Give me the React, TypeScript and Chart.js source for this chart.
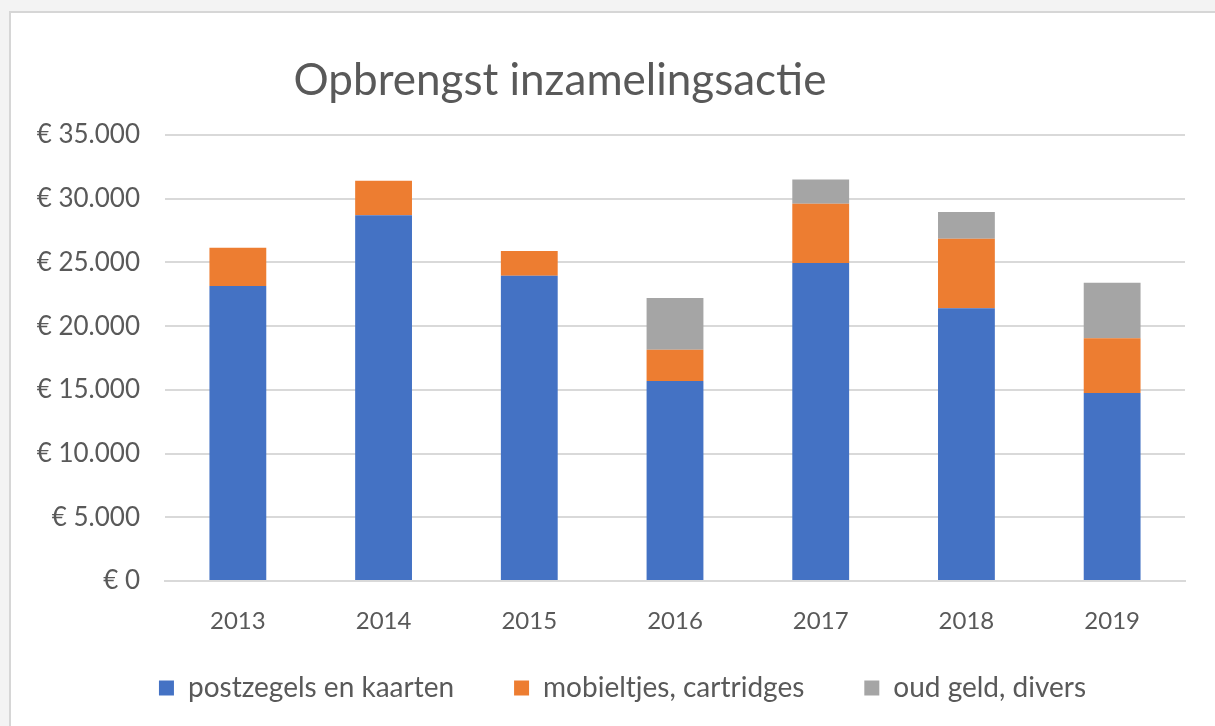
import { useEffect, useRef } from 'react';
import { Chart, registerables } from 'chart.js';

Chart.register(...registerables);

const chartTitle = 'Opbrengst inzamelingsactie';
const years = ['2013', '2014', '2015', '2016', '2017', '2018', '2019'];
const seriesNames = ['postzegels en kaarten', 'mobieltjes, cartridges', 'oud geld, divers'];
const postzegels = [23150, 28700, 23950, 15700, 24950, 21400, 14750];
const mobieltjes = [3000, 2700, 1950, 2450, 4650, 5450, 4300];
const oudGeld = [0, 0, 0, 4050, 1900, 2100, 4350];
const yMax = 35000;
const yStep = 5000;

const FONT = 'Lato, "Open Sans", sans-serif';
const TEXT = '#595959';
const GRID = '#d9d9d9';

const fmtEuro = (v: number) => '€ ' + String(v).replace(/\B(?=(\d{3})+(?!\d))/g, '.');

const titlePlugin = {
  id: 'customTitle',
  afterDraw(chart: any) {
    const ctx = chart.ctx;
    ctx.save();
    ctx.font = `400 44px ${FONT}`;
    ctx.fillStyle = TEXT;
    ctx.textAlign = 'center';
    ctx.textBaseline = 'alphabetic';
    ctx.fillText(chartTitle, 560, 95);
    ctx.restore();
  },
};

// nudge the legend box (layout only)
const legendShift = { x: 30, y: -20 };
const legendNudge = {
  id: 'legendNudge',
  afterLayout(chart: any) {
    const lg = chart.legend;
    if (!lg) return;
    lg.left += legendShift.x;
    lg.right += legendShift.x;
    lg.top += legendShift.y;
    lg.bottom += legendShift.y;
  },
};

export default function App() {
  const ref = useRef<HTMLCanvasElement | null>(null);

  useEffect(() => {
    if (!ref.current) return;
    const chart = new Chart(ref.current, {
      type: 'bar',
      data: {
        labels: years,
        datasets: [
          { label: seriesNames[0], data: postzegels, backgroundColor: '#4472c4' },
          { label: seriesNames[1], data: mobieltjes, backgroundColor: '#ed7d31' },
          { label: seriesNames[2], data: oudGeld, backgroundColor: '#a5a5a5' },
        ],
      },
      plugins: [titlePlugin, legendNudge],
      options: {
        animation: false,
        responsive: false,
        devicePixelRatio: 1,
        datasets: { bar: { categoryPercentage: 1, barPercentage: 0.39 } },
        layout: { padding: { left: 0, right: 30, top: 135, bottom: -6 } },
        scales: {
          x: {
            stacked: true,
            grid: { display: false, drawTicks: false },
            border: { display: true, color: GRID, width: 2 },
            ticks: { color: TEXT, font: { family: FONT, size: 24 }, padding: 26 },
            afterFit: (s: any) => { s.height = 53; },
          },
          y: {
            stacked: true,
            min: 0,
            max: yMax,
            grid: { color: GRID, lineWidth: 2, drawTicks: false },
            border: { display: false },
            ticks: {
              stepSize: yStep,
              color: TEXT,
              font: { family: FONT, size: 26 },
              padding: 25,
              callback: (v: any) => fmtEuro(Number(v)),
            },
            afterFit: (s: any) => { s.width = 165; },
          },
        },
        plugins: {
          title: { display: false },
          tooltip: { enabled: false },
          legend: {
            position: 'bottom',
            labels: {
              color: TEXT,
              font: { family: FONT, size: 28 },
              boxWidth: 15,
              boxHeight: 15,
              padding: 60,
            },
          },
        },
      },
    } as any);
    return () => chart.destroy();
  }, []);

  return (
    <div style={{ position: 'fixed', left: 0, top: 0, width: 1215, height: 726, background: '#f3f3f3', overflow: 'hidden' }}>
      <div style={{ position: 'absolute', left: 9, top: 11, right: 0, bottom: 0, background: '#ffffff', borderLeft: '2px solid #d6d6d6', borderTop: '2px solid #d6d6d6' }} />
      <canvas ref={ref} width={1215} height={726} style={{ position: 'absolute', left: 0, top: 0, width: 1215, height: 726 }} />
    </div>
  );
}
